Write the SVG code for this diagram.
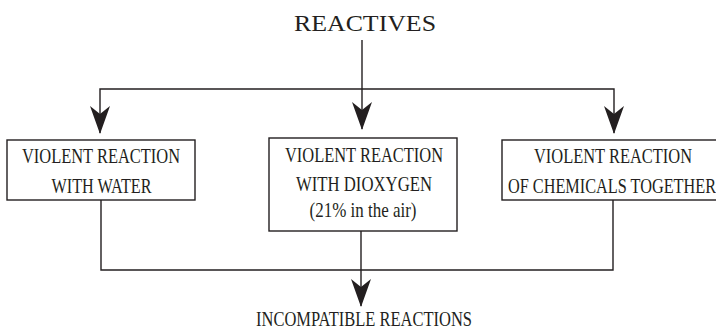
<svg xmlns="http://www.w3.org/2000/svg" width="716" height="329" viewBox="0 0 716 329">
<style>
.box{fill:#fff;stroke:#231f20;stroke-width:1.4}
.ln{fill:none;stroke:#231f20;stroke-width:1.4}
.t{font-family:"Liberation Serif","Times New Roman",serif;fill:#231f20;text-anchor:middle}
.bt{font-size:22px}
</style>
<defs>
<marker id="ah" viewBox="0 0 28 20" refX="27" refY="10" markerWidth="28" markerHeight="20" markerUnits="userSpaceOnUse" orient="auto">
<path d="M0,0 L28,10 L0,20 L8,10 Z" fill="#231f20"/>
</marker>
</defs>
<rect width="716" height="329" fill="#fff"/>
<g id="connectors">
<line class="ln" x1="362" y1="40" x2="362" y2="129" marker-end="url(#ah)"/>
<polyline class="ln" points="362,89 100,89 100,133" marker-end="url(#ah)"/>
<polyline class="ln" points="362,89 614,89 614,133" marker-end="url(#ah)"/>
<polyline class="ln" points="101,200 101,270 613,270 613,200"/>
<line class="ln" x1="361" y1="231" x2="361" y2="306" marker-end="url(#ah)"/>
</g>
<g id="reactives">
<text class="t" x="365" y="31" font-size="24" textLength="142" lengthAdjust="spacingAndGlyphs">REACTIVES</text>
</g>
<g id="water">
<rect class="box" x="7" y="140" width="188" height="60"/>
<text class="t bt" x="101" y="163" textLength="158" lengthAdjust="spacingAndGlyphs">VIOLENT REACTION</text>
<text class="t bt" x="101.5" y="192.5" textLength="100" lengthAdjust="spacingAndGlyphs">WITH WATER</text>
</g>
<g id="dioxygen">
<rect class="box" x="269" y="138" width="188" height="93"/>
<text class="t bt" x="364" y="161.5" textLength="158" lengthAdjust="spacingAndGlyphs">VIOLENT REACTION</text>
<text class="t bt" x="364" y="191" textLength="136" lengthAdjust="spacingAndGlyphs">WITH DIOXYGEN</text>
<text class="t bt" x="363" y="217" textLength="107" lengthAdjust="spacingAndGlyphs">(21% in the air)</text>
</g>
<g id="chemicals">
<rect class="box" x="502" y="140" width="230" height="60"/>
<text class="t bt" x="613" y="163" textLength="158" lengthAdjust="spacingAndGlyphs">VIOLENT REACTION</text>
<text class="t bt" x="612" y="192.5" textLength="208" lengthAdjust="spacingAndGlyphs">OF CHEMICALS TOGETHER</text>
</g>
<g id="incompatible">
<text class="t" x="364" y="326" font-size="21" textLength="216" lengthAdjust="spacingAndGlyphs">INCOMPATIBLE REACTIONS</text>
</g>
</svg>
